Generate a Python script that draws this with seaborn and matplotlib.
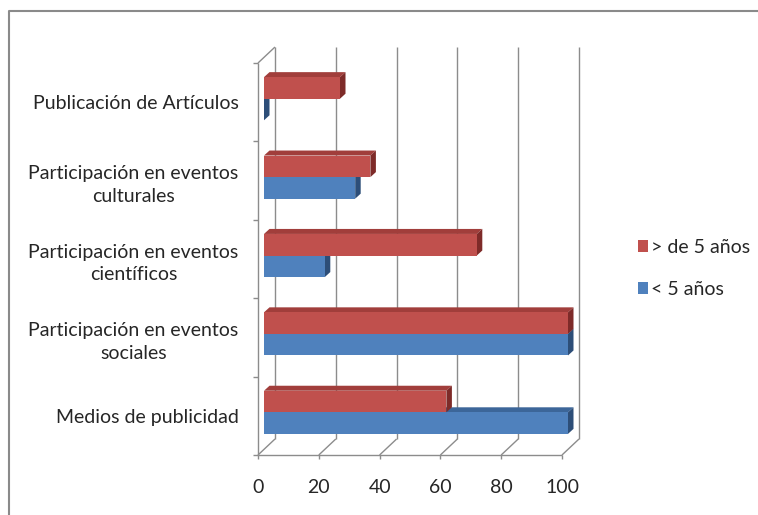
import matplotlib
matplotlib.use("Agg")
import matplotlib.pyplot as plt
import matplotlib.transforms as mtransforms
from matplotlib.colors import to_hex
from matplotlib.patches import Polygon, Patch
from matplotlib.lines import Line2D
import seaborn as sns
import pandas as pd

# --- data -------------------------------------------------------------
categorias = [
    "Publicación de Artículos",
    "Participación en eventos\nculturales",
    "Participación en eventos\ncientíficos",
    "Participación en eventos\nsociales",
    "Medios de publicidad",
]
series = ["> de 5 años", "< 5 años"]
mas_de_5 = [25, 35, 70, 100, 60]
menos_de_5 = [0, 30, 20, 100, 100]
ticks_x = [0, 20, 40, 60, 80, 100]

# --- styling ----------------------------------------------------------
frente = {"> de 5 años": "#C0504D", "< 5 años": "#4F81BD"}
tapa = {"> de 5 años": "#A13E3B", "< 5 años": "#3C6699"}
lado = {"> de 5 años": "#7E2B29", "< 5 años": "#2D4E78"}
gris = "#8C8C8C"
texto = "#262626"
fs = 14

W, H = 758, 515
sns.set_theme(style="white")
plt.rcParams["font.family"] = ["Lato", "DejaVu Sans"]

df = pd.DataFrame({
    "categoria": categorias * 2,
    "serie": [series[0]] * len(categorias) + [series[1]] * len(categorias),
    "valor": mas_de_5 + menos_de_5,
})

fig = plt.figure(figsize=(W / 100, H / 100), dpi=100)
fig.patch.set_facecolor("white")
ax = fig.add_axes([258 / W, 1 - 455 / H, 304 / W, 392 / H])

sns.barplot(data=df, x="valor", y="categoria", hue="serie",
            hue_order=series, order=categorias, palette=frente,
            orient="h", width=0.55, saturation=1, linewidth=0,
            legend=False, ax=ax)

ax.set_xlim(0, 100)
ax.set_ylim(len(categorias) - 0.5, -0.5)
ax.set_facecolor("none")
for s in ax.spines.values():
    s.set_visible(False)
ax.set_xlabel("")
ax.set_ylabel("")
ax.set_xticks(ticks_x)
ax.set_xticklabels([str(v) for v in ticks_x])
ax.tick_params(axis="x", length=0, pad=17, labelsize=fs, labelcolor=texto)
ax.tick_params(axis="y", length=0, pad=14, labelsize=fs, labelcolor=texto)
for t in ax.get_yticklabels():
    t.set_multialignment("center")
    t.set_linespacing(1.4)

ident = mtransforms.IdentityTransform()
fondo = (17, 16)       # depth of the back wall, in pixels
barra_off = (6, 3.5)   # bars sit halfway into the depth
prof = (5.5, 5)        # bar thickness in depth


def disp(x, y):
    return ax.transData.transform((x, y))


def linea(p, q, z=1, lw=1.0):
    ax.add_artist(Line2D([p[0], q[0]], [p[1], q[1]], transform=ident,
                         color=gris, lw=lw, zorder=z, clip_on=False,
                         solid_capstyle="butt"))


# back wall gridlines and floor diagonals
y_top, y_bot = -0.5, len(categorias) - 0.5
for v in ticks_x:
    b = disp(v, y_bot)
    t = disp(v, y_top)
    linea((b[0] + fondo[0], b[1] + fondo[1]), (t[0] + fondo[0], t[1] + fondo[1]))
    linea(b, (b[0] + fondo[0], b[1] + fondo[1]))
    linea(b, (b[0], b[1] - 4))
# left wall
tl = disp(0, y_top)
bl = disp(0, y_bot)
linea(tl, (tl[0] + fondo[0], tl[1] + fondo[1]))
linea(tl, bl)
linea(bl, disp(100, y_bot))
for k in range(len(categorias) + 1):
    p = disp(0, k - 0.5)
    linea((p[0] - 5, p[1]), p)

# 3-D faces for every bar; lower bars first so upper ones cover their tops
shift = mtransforms.Affine2D().translate(*barra_off)
barras = []
for patch in ax.patches:
    x0, y0 = patch.get_x(), patch.get_y()
    w, h = patch.get_width(), patch.get_height()
    color = to_hex(patch.get_facecolor())
    serie = [s for s in series if to_hex(frente[s]) == color][0]
    p1 = disp(x0, y0)
    p2 = disp(x0 + w, y0 + h)
    xl, xr = sorted([p1[0], p2[0]])
    yb, yt = sorted([p1[1], p2[1]])
    barras.append((yb, patch, serie, xl + barra_off[0], xr + barra_off[0],
                   yb + barra_off[1], yt + barra_off[1]))

barras.sort(key=lambda b: b[0])
for i, (_, patch, serie, xl, xr, yb, yt) in enumerate(barras):
    z = 5 + i
    patch.set_transform(ax.transData + shift)
    patch.set_zorder(z)
    patch.set_clip_on(False)
    dx, dy = prof
    top = Polygon([(xl, yt), (xr, yt), (xr + dx, yt + dy), (xl + dx, yt + dy)],
                  closed=True, transform=ident, facecolor=tapa[serie],
                  edgecolor="none", zorder=z - 0.5, clip_on=False)
    side = Polygon([(xr, yb), (xr, yt), (xr + dx, yt + dy), (xr + dx, yb + dy)],
                   closed=True, transform=ident, facecolor=lado[serie],
                   edgecolor="none", zorder=z - 0.5, clip_on=False)
    ax.add_artist(top)
    ax.add_artist(side)

# legend
handles = [Patch(facecolor=frente[s], edgecolor="none", label=s) for s in series]
fig.legend(handles=handles, loc="upper left",
           bbox_to_anchor=(628 / W, 1 - 229 / H), frameon=False,
           handlelength=0.55, handleheight=0.55, handletextpad=0.15,
           labelspacing=1.3, fontsize=fs, labelcolor=texto, borderpad=0)

# outer frame of the chart area
fig.add_artist(Line2D([9, 9, W], [0, H - 11, H - 11], transform=ident,
                      color="#8A8A8A", lw=1.5, zorder=0))

fig.savefig("out.png", dpi=100)
